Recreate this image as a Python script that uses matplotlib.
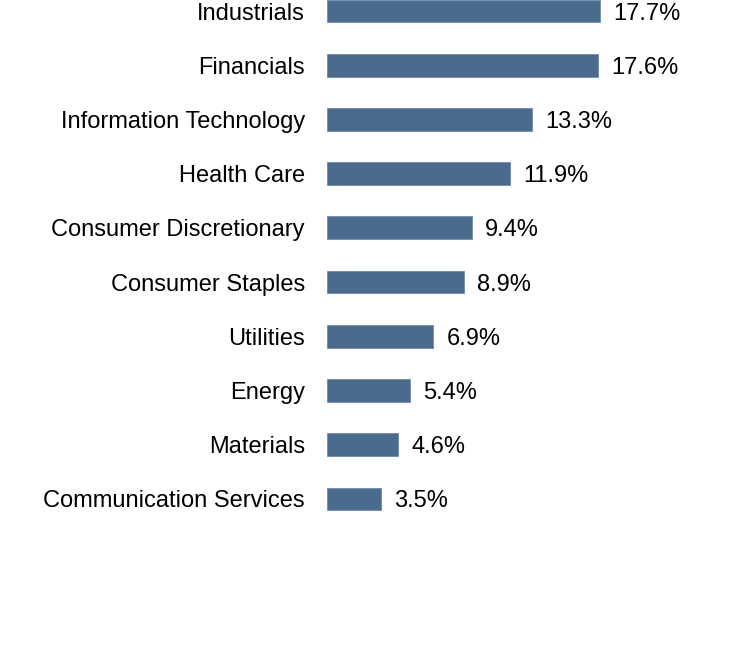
import matplotlib.pyplot as plt

plt.rcParams["font.family"] = ["Liberation Sans", "DejaVu Sans"]

sectors = [
    "Industrials",
    "Financials",
    "Information Technology",
    "Health Care",
    "Consumer Discretionary",
    "Consumer Staples",
    "Utilities",
    "Energy",
    "Materials",
    "Communication Services",
]
weights = [17.7, 17.6, 13.3, 11.9, 9.4, 8.9, 6.9, 5.4, 4.6, 3.5]

fig = plt.figure(figsize=(7.32, 6.48), dpi=100)
ax = fig.add_axes([327 / 732, 0, 1 - 327 / 732, 1])

pos = list(range(len(sectors)))
ax.barh(pos, weights, height=0.42, color="#4a6b8e", edgecolor="#6f8aa6", linewidth=0.6)

# value labels just right of each bar
for y, v in zip(pos, weights):
    ax.annotate(
        f"{v}%",
        xy=(v, y),
        xytext=(9.5, 0),
        textcoords="offset points",
        va="center_baseline",
        ha="left",
        fontsize=17,
    )

ax.set_yticks(pos)
ax.set_yticklabels(sectors, fontsize=17)
ax.tick_params(axis="y", length=0, pad=16)
ax.set_xticks([])
ax.set_xlim(0, 405 / 15.42)
ax.set_ylim(11.75, -0.203)
for s in ax.spines.values():
    s.set_visible(False)

fig.savefig("out.png", dpi=100)
